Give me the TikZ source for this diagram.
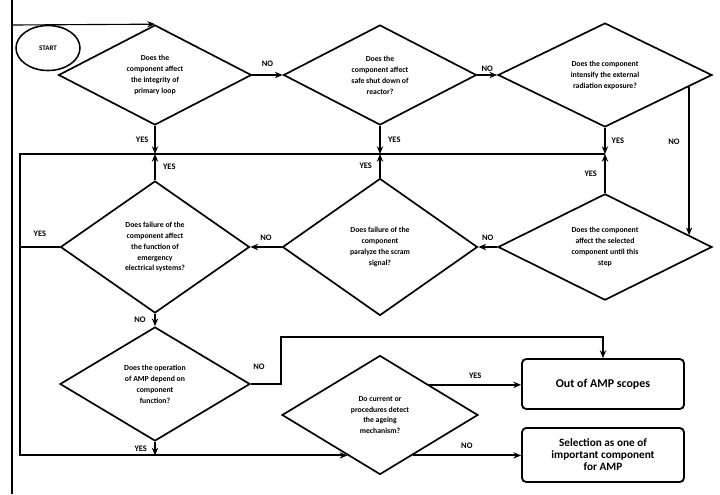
\documentclass[tikz,border=0pt]{standalone}
\usepackage{fontspec}
\setmainfont{Carlito}
\usetikzlibrary{
    arrows.meta,
    shapes.geometric,
    calc
}

\begin{document}
\begin{tikzpicture}[
    x=0.05cm, y=-0.05cm,
    question/.style={diamond, draw, line width=2.4pt, inner sep=0pt, align=center, font=\fontsize{11}{15.5}\selectfont\bfseries},
    outcome/.style={rectangle, rounded corners=6pt, draw, line width=2.6pt, minimum width=8.1cm, align=center, font=\fontsize{17}{21}\selectfont\bfseries},
    arrow/.style={-{Stealth[length=11pt, width=9pt]}, line width=3pt},
    link/.style={line width=3pt},
    answer/.style={font=\fontsize{12}{14}\selectfont\bfseries, inner sep=4pt}
]
\useasboundingbox (0,0) rectangle (720,494);

% === START and entry line ===
\coordinate (frametop) at (12,0);
\coordinate (framebot) at (12,494);
\coordinate (entry) at (12,25);
\draw[line width=1.6pt] (frametop) -- (framebot);
\node[ellipse, draw, line width=2.2pt, minimum width=3.2cm, minimum height=2.25cm, font=\fontsize{10}{12}\selectfont\bfseries] (start) at (48,48) {START};

% === First row of questions ===
\node[question, minimum width=9.65cm, minimum height=5cm] (integrity) at (155,75) {Does the\\component affect\\the integrity of\\primary loop};
\node[question, minimum width=9.65cm, minimum height=5cm] (shutdown) at (380,75) {Does the\\component affect\\safe shut down of\\reactor?};
\node[question, minimum width=10.7cm, minimum height=5.2cm] (radiation) at (605,75) {Does the component\\intensify the external\\radiation exposure?};

% === Second row of questions ===
\node[question, minimum width=9.45cm, minimum height=6.6cm] (emergency) at (155,247) {Does failure of the\\component affect\\the function of\\emergency\\electrical systems?};
\node[question, minimum width=9.75cm, minimum height=6.85cm] (scram) at (380,247) {Does failure of the\\component\\paralyze the scram\\signal?};
\node[question, minimum width=10.7cm, minimum height=4.9cm] (selected) at (605,247) {Does the component\\affect the selected\\component until this\\step};

% === Last questions ===
\node[question, minimum width=9.5cm, minimum height=5.7cm] (operation) at (155,384) {Does the operation\\of AMP depend on\\component\\function?};
\node[question, minimum width=9.8cm, minimum height=5.95cm] (detect) at (380,415) {Do current or\\procedures detect\\the ageing\\mechanism?};

% === Outcomes ===
\node[outcome, minimum height=2.5cm] (outscope) at (603,384) {Out of AMP scopes};
\node[outcome, minimum height=2.7cm, font=\fontsize{16}{17}\selectfont\bfseries] (selection) at (603,455) {Selection as one of\\important component\\for AMP};

% Helper points
\coordinate (busleft) at (20,154);
\coordinate (busright) at (605,154);
\coordinate (detectin) at ($(detect.south)!0.33!(detect.west)$);
\coordinate (detectout) at ($(detect.south)!0.33!(detect.east)$);
\coordinate (radno) at ($(radiation.east)!0.22!(radiation.south)$);
\coordinate (selno) at ($(selected.east)!0.22!(selected.north)$);

% === Connections ===
\draw[arrow, line width=1.6pt] (entry) -- (integrity.north);
\draw[arrow] (integrity.east) -- (shutdown.west) node[midway, above=6pt, answer] {NO};
\draw[arrow] (shutdown.east) -- (radiation.west) node[midway, above, answer] {NO};
\draw[arrow] (radno) -- (selno) node[pos=0.37, left=8pt, answer] {NO};

\draw[arrow] (integrity) -- (integrity |- busleft) node[midway, left=4pt, answer] {YES};
\draw[arrow] (shutdown) -- (shutdown |- busleft) node[midway, right=6pt, answer] {YES};
\draw[arrow] (radiation) -- (radiation |- busleft) node[midway, right=4pt, answer] {YES};

\draw[arrow] (emergency) -- (emergency |- busleft) node[midway, right=6pt, answer] {YES};
\draw[arrow] (scram) -- (scram |- busleft) node[midway, left=6pt, answer] {YES};
\draw[arrow] (selected) -- (selected |- busleft) node[midway, left=6pt, answer] {YES};

\draw[arrow] (selected.west) -- (scram.east) node[midway, above=4pt, answer] {NO};
\draw[arrow] (scram.west) -- (emergency.east) node[midway, above=4pt, answer] {NO};
\draw[link] (emergency.west) -- (emergency.west -| busleft) node[midway, above=10pt, answer] {YES};
\draw[arrow] (emergency.south) -- (operation.north) node[midway, left=8pt, answer] {NO};

% YES collector loop
\draw[arrow] (busright) -- (busleft) -- (busleft |- detectin) -- (detectin);
\draw[arrow] (operation) -- (operation |- detectin) node[midway, left=6pt, answer] {YES};

\draw[arrow] (operation.east) -- ++(30,0) |- ($(outscope.north)+(0,-21)$) -- (outscope.north);
\node[answer] at (259,367) {NO};

\draw[arrow] (detect.north east) -- (outscope.west |- detect.north east) node[midway, above=4pt, answer] {YES};
\draw[arrow] (detectout) -- (selection.west |- detectout) node[midway, above=4pt, answer] {NO};

\end{tikzpicture}
\end{document}
